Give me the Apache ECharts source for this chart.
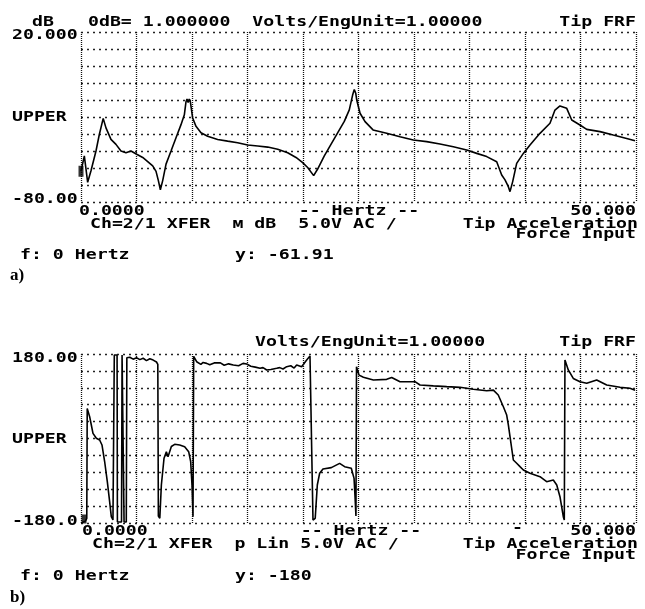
<!DOCTYPE html>
<html><head><meta charset="utf-8">
<script src="https://cdn.jsdelivr.net/npm/echarts@6/dist/echarts.min.js"></script>
<style>html,body{margin:0;padding:0;background:#fff}#c{width:645px;height:609px}</style>
</head><body><div id="c"></div>
<script>
// ---- Panel a: magnitude (dB) ----
const magFreq = [0,0.30,0.60,0.90,1.35,1.65,2.00,2.25,2.70,3.15,3.60,4.05,4.50,5.02,5.56,6.01,6.46,6.76,6.97,7.15,7.36,7.66,8.11,8.56,9.01,9.31,9.46,9.55,9.65,9.75,9.85,10.06,10.36,10.81,11.41,12.31,13.21,14.11,15.02,15.92,16.82,17.72,18.62,19.37,19.97,20.42,20.96,21.32,21.92,22.52,23.12,23.72,24.17,24.47,24.62,24.75,24.84,25.14,25.59,26.31,27.54,28.74,29.94,31.14,32.34,33.54,34.75,35.65,36.55,37.45,37.90,38.20,38.50,38.65,38.89,39.25,39.85,40.45,41.35,42.25,42.70,43.15,43.76,44.21,44.95,45.56,46.76,47.95,49.16,49.91];
const magDb = [-61.91,-52.9,-68.4,-61.6,-50,-40.3,-30.8,-36.4,-43.2,-46.1,-50,-51,-50,-51.9,-53.8,-56.2,-58.7,-62,-67.4,-72.8,-67.4,-57.7,-50,-42.2,-34.5,-28.7,-21,-19.4,-21.5,-19.4,-21,-30.6,-35.5,-39.3,-41.3,-43.2,-44.2,-45.1,-46.5,-47.1,-47.7,-49,-51,-53.8,-56.8,-59.7,-64.5,-60.6,-52.9,-46.1,-39.3,-32.6,-25.8,-17.1,-13.8,-16,-20,-27.8,-32.7,-37.6,-39.6,-41.6,-43.5,-44.5,-45.9,-47.5,-49.4,-51.4,-53.3,-56.3,-64.1,-67,-71,-73.9,-68,-57.3,-51.4,-46.5,-39.6,-33.7,-25.9,-23.5,-24.9,-31.8,-34.7,-37.3,-38.6,-40.6,-42.6,-44];
// ---- Panel b: phase (deg) ----
const phaseFreq = [0,0.40,0.52,0.56,0.65,0.78,0.93,1.08,1.38,1.68,1.89,2.13,2.37,2.58,2.73,2.88,2.97,3.00,3.25,3.28,3.65,3.70,3.85,3.88,4.08,4.13,4.40,4.70,5.00,5.30,5.60,5.90,6.20,6.50,6.80,6.92,6.97,7.10,7.24,7.48,7.69,7.84,8.14,8.44,8.89,9.34,9.70,9.88,10.00,10.09,10.12,10.15,10.42,10.80,11.00,11.32,11.60,12.00,12.52,12.90,13.30,13.72,14.20,14.60,14.93,15.30,15.70,16.13,16.40,16.73,17.10,17.63,17.90,18.20,18.53,18.90,19.20,19.43,19.60,19.88,20.33,20.63,20.80,20.90,21.10,21.29,21.50,21.80,22.55,23.30,23.75,24.35,24.60,24.70,24.77,24.82,25.05,25.44,26.34,27.54,27.99,28.74,30.09,30.54,31.74,32.95,34.14,35.34,36.55,37.15,37.59,38.05,38.35,38.50,38.65,38.95,39.25,39.55,39.85,40.45,41.35,41.95,42.55,42.86,43.15,43.45,43.54,43.60,43.90,44.35,44.95,45.56,46.46,47.36,48.56,49.46,49.91];
const phaseDeg = [-180,-176,-170,64,62,46.5,28.8,11,0.4,-3.2,-13.8,-49,-92,-134.5,-166.5,-173.6,-176,178,178,-178,-178,178,178,-178,-178,172,173,169,172,168,171,166,170,167,163,158,-165,-170,-99,-42,-28,-38.7,-17,-12.4,-13.8,-17.4,-28,-49,-99,-166.5,-170,175,163.6,158,162,160,157,161,161.5,156,159,156.6,155,160,158.7,154,152,149.5,151,146,147,149.5,151,148,153,155,150,156.6,158,153,167,175.7,172,-173.6,-170,-99,-74,-65,-62,-53,-60,-63.5,-85,-130,-165,153,135,130.3,124.6,126,130,121,121,114,112,110.4,109,104.8,101.8,103,92.7,67.7,50,28.8,3.9,-45.8,-52.8,-60,-67,-74,-81.3,-92,-88.4,-99,-124,-166.5,-173.6,167,146,128,121,117.5,124.6,114,109,107,103];
// cursor readouts
const cursorA = [0, -61.91];
const cursorB = [0, -180];
// tick labels
const yTickValsA = [20, -30, -80];
const yTickTextA = ['20.000', 'UPPER', '-80.00'];
const yTickValsB = [180, 0, -180];
const yTickTextB = ['180.00', 'UPPER', '-180.0'];
const xTickVals = [0, 50];
const xTickText = ['0.0000', '50.000'];

const chart = echarts.init(document.getElementById('c'), null, {renderer: 'canvas'});
const vLine = {show: true, lineStyle: {color: '#111', type: [1, 1], width: 1.3}};
const hLine = {show: true, lineStyle: {color: '#222', type: [2, 4], width: 1.4}};
function xAx(g) {
  return {gridIndex: g, type: 'value', min: 0, max: 50, interval: 5,
    axisLine: {show: false}, axisTick: {show: false}, axisLabel: {show: false}, splitLine: vLine};
}
function yAx(g, mn, mx, iv) {
  return {gridIndex: g, type: 'value', min: mn, max: mx, interval: iv,
    axisLine: {show: false}, axisTick: {show: false}, axisLabel: {show: false}, splitLine: hLine};
}
chart.setOption({
  animation: false,
  backgroundColor: '#fff',
  grid: [
    {left: 81, top: 32, width: 555, height: 170},
    {left: 81, top: 354, width: 555, height: 169}
  ],
  xAxis: [xAx(0), xAx(1)],
  yAxis: [yAx(0, -80, 20, 10), yAx(1, -180, 180, 36)],
  series: [
    {type: 'line', xAxisIndex: 0, yAxisIndex: 0, showSymbol: false, symbol: 'none',
      lineStyle: {color: '#000', width: 1.6}, data: magFreq.map((f, i) => [f, magDb[i]])},
    {type: 'line', xAxisIndex: 1, yAxisIndex: 1, showSymbol: false, symbol: 'none',
      lineStyle: {color: '#000', width: 1.6}, data: phaseFreq.map((f, i) => [f, phaseDeg[i]])},
    {type: 'scatter', xAxisIndex: 0, yAxisIndex: 0, clip: false, symbol: 'rect', symbolSize: [5, 11],
      itemStyle: {color: '#000'}, data: [cursorA]},
    {type: 'scatter', xAxisIndex: 1, yAxisIndex: 1, clip: false, symbol: 'rect', symbolSize: [5, 9],
      symbolOffset: [3, -4], itemStyle: {color: '#000'}, data: [cursorB]}
  ]
});

const SX = 1.3;
const MONO = 'bold 14px "DejaVu Sans Mono"';
function txt(s, x, y, align, font, sx) {
  return {type: 'text', x: x, y: y, scaleX: sx || SX, scaleY: 1, silent: true,
    style: {text: s, x: 0, y: 0, font: font || MONO, fill: '#000',
      align: align, verticalAlign: 'middle', textAlign: align, textVerticalAlign: 'middle'}};
}
const g = [];
function yPix(ax, v) { return chart.convertToPixel({yAxisIndex: ax}, v); }
function xPix(ax, v) { return chart.convertToPixel({xAxisIndex: ax}, v); }
const yOff = [3, 0, -3];
yTickValsA.forEach((v, i) => g.push(txt(yTickTextA[i], 12, yPix(0, v) + yOff[i], 'left')));
yTickValsB.forEach((v, i) => g.push(txt(yTickTextB[i], 12, yPix(1, v) + yOff[i] + 1, 'left')));
const xbA = yPix(0, -80) + 9.5, xbB = yPix(1, -180) + 8.5;
g.push(txt(xTickText[0], xPix(0, xTickVals[0]) - 2, xbA, 'left'));
g.push(txt(xTickText[1], xPix(0, xTickVals[1]), xbA, 'right'));
g.push(txt(xTickText[0], xPix(1, xTickVals[0]) + 1, xbB, 'left'));
g.push(txt(xTickText[1], xPix(1, xTickVals[1]), xbB, 'right'));
// panel a texts
g.push(txt('dB', 43, 22, 'center'));
g.push(txt('0dB= 1.000000  Volts/EngUnit=1.00000', 88, 22, 'left'));
g.push(txt('Tip FRF', 636, 22, 'right'));
g.push(txt('-- Hertz --', 359, xbA, 'center'));
g.push(txt('Ch=2/1 XFER  м dB  5.0V AC /', 90, 224, 'left'));
g.push(txt('Tip Acceleration', 638, 224, 'right'));
g.push(txt('Force Input', 636, 234, 'right'));
g.push(txt('f: 0 Hertz', 20, 255, 'left'));
g.push(txt('y: -61.91', 235, 255, 'left'));
g.push(txt('a)', 10, 276, 'left', 'bold 17px "Liberation Serif"', 1));
// panel b texts
g.push(txt('Volts/EngUnit=1.00000', 255, 342, 'left'));
g.push(txt('Tip FRF', 636, 342, 'right'));
g.push(txt('-- Hertz --', 361, xbB, 'center'));
g.push(txt('-', 512, xbB - 3, 'left'));
g.push(txt('Ch=2/1 XFER  p Lin 5.0V AC /', 92, 544, 'left'));
g.push(txt('Tip Acceleration', 638, 544, 'right'));
g.push(txt('Force Input', 636, 555, 'right'));
g.push(txt('f: 0 Hertz', 20, 576, 'left'));
g.push(txt('y: -180', 235, 576, 'left'));
g.push(txt('b)', 10, 598, 'left', 'bold 17px "Liberation Serif"', 1));
chart.setOption({graphic: {elements: g}});
</script>
</body></html>
